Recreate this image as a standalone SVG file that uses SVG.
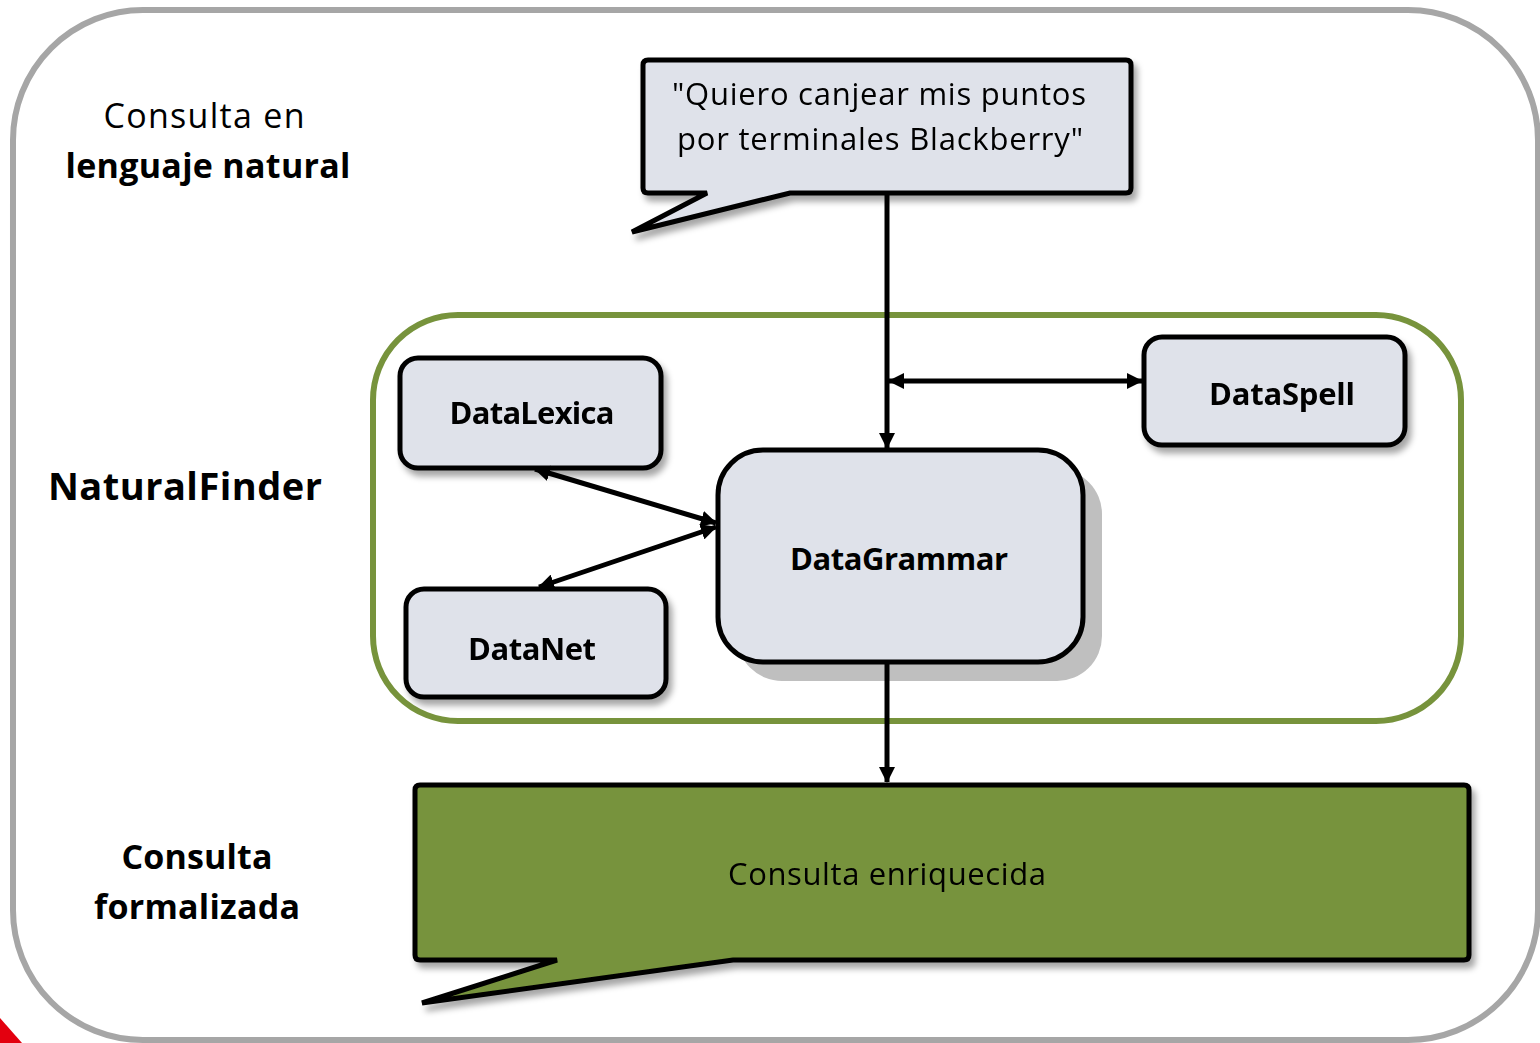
<svg xmlns="http://www.w3.org/2000/svg" width="1540" height="1043" viewBox="0 0 1540 1043">
<style>
.lbl{font-family:"Open Sans","Noto Sans",sans-serif;fill:#000}
.b{font-weight:bold}
.node{fill:#dfe2ea;stroke:#000;stroke-width:5}
.conn{stroke:#000;stroke-width:5;fill:none}
</style>
<defs>
<filter id="sh" x="-10%" y="-10%" width="130%" height="140%">
<feDropShadow dx="4" dy="6" stdDeviation="3" flood-color="#000" flood-opacity="0.35"/>
</filter>
<marker id="ah" markerUnits="userSpaceOnUse" markerWidth="16" markerHeight="16" refX="15" refY="8" orient="auto-start-reverse" viewBox="0 0 16 16">
<path d="M0,0 L16,8 L0,16 Z" fill="#000"/>
</marker>
</defs>
<rect width="1540" height="1043" fill="#fff"/>
<rect x="13" y="10" width="1525" height="1030" rx="130" fill="#fff" stroke="#a6a6a6" stroke-width="6"/>
<polygon points="0,1018 22,1043 0,1043" fill="#e3000f"/>

<g id="label-consulta-natural">
<text class="lbl" x="204" y="128" font-size="34" text-anchor="middle" textLength="201">Consulta en</text>
<text class="lbl b" x="208" y="178" font-size="34" text-anchor="middle" textLength="285">lenguaje natural</text>
</g>
<g id="label-naturalfinder">
<text class="lbl b" x="48" y="500" font-size="38" textLength="274">NaturalFinder</text>
</g>
<g id="label-formalizada">
<text class="lbl b" x="197" y="869" font-size="34" text-anchor="middle" textLength="151">Consulta</text>
<text class="lbl b" x="197" y="919" font-size="34" text-anchor="middle" textLength="206">formalizada</text>
</g>

<g id="naturalfinder-container">
<rect x="373" y="315" width="1088" height="406" rx="85" fill="none" stroke="#77933c" stroke-width="6"/>
</g>

<g id="query-bubble" filter="url(#sh)">
<path class="node" d="M643,65 Q643,60 648,60 L1126,60 Q1131,60 1131,65 L1131,188 Q1131,193 1126,193 L790,193 L632,232 L707,193 L648,193 Q643,193 643,188 Z" stroke-linejoin="miter"/>
<text class="lbl" x="879" y="105" font-size="31" text-anchor="middle" textLength="414">"Quiero canjear mis puntos</text>
<text class="lbl" x="880" y="150" font-size="31" text-anchor="middle" textLength="406">por terminales Blackberry"</text>
</g>

<g id="datalexica" filter="url(#sh)">
<rect class="node" x="400" y="358" width="261" height="110" rx="18"/>
<text class="lbl b" x="532" y="424" font-size="31" text-anchor="middle" textLength="165">DataLexica</text>
</g>
<g id="datanet" filter="url(#sh)">
<rect class="node" x="406" y="589" width="260" height="108" rx="18"/>
<text class="lbl b" x="532" y="660" font-size="31" text-anchor="middle" textLength="128">DataNet</text>
</g>
<g id="dataspell" filter="url(#sh)">
<rect class="node" x="1144" y="337" width="261" height="108" rx="18"/>
<text class="lbl b" x="1282" y="405" font-size="31" text-anchor="middle" textLength="146">DataSpell</text>
</g>
<g id="datagrammar">
<rect x="737" y="469" width="365" height="212" rx="45" fill="#bfbfbf"/>
<rect class="node" x="718" y="450" width="365" height="212" rx="45"/>
<text class="lbl b" x="899" y="570" font-size="31" text-anchor="middle" textLength="218">DataGrammar</text>
</g>

<g id="result-bubble" filter="url(#sh)">
<path d="M415,790 Q415,785 420,785 L1464,785 Q1469,785 1469,790 L1469,955 Q1469,960 1464,960 L733,960 L422,1003 L557,960 L420,960 Q415,960 415,955 Z" fill="#77933c" stroke="#000" stroke-width="5"/>
<text class="lbl" x="887" y="885" font-size="31" text-anchor="middle" textLength="318">Consulta enriquecida</text>
</g>

<g id="connectors">
<line class="conn" x1="887" y1="193" x2="887" y2="448" marker-end="url(#ah)"/>
<line class="conn" x1="889" y1="381" x2="1142" y2="381" marker-start="url(#ah)" marker-end="url(#ah)"/>
<line class="conn" x1="535" y1="469" x2="716" y2="523" marker-start="url(#ah)" marker-end="url(#ah)"/>
<line class="conn" x1="539" y1="587" x2="716" y2="527" marker-start="url(#ah)" marker-end="url(#ah)"/>
<line class="conn" x1="887" y1="662" x2="887" y2="782" marker-end="url(#ah)"/>
</g>
</svg>
